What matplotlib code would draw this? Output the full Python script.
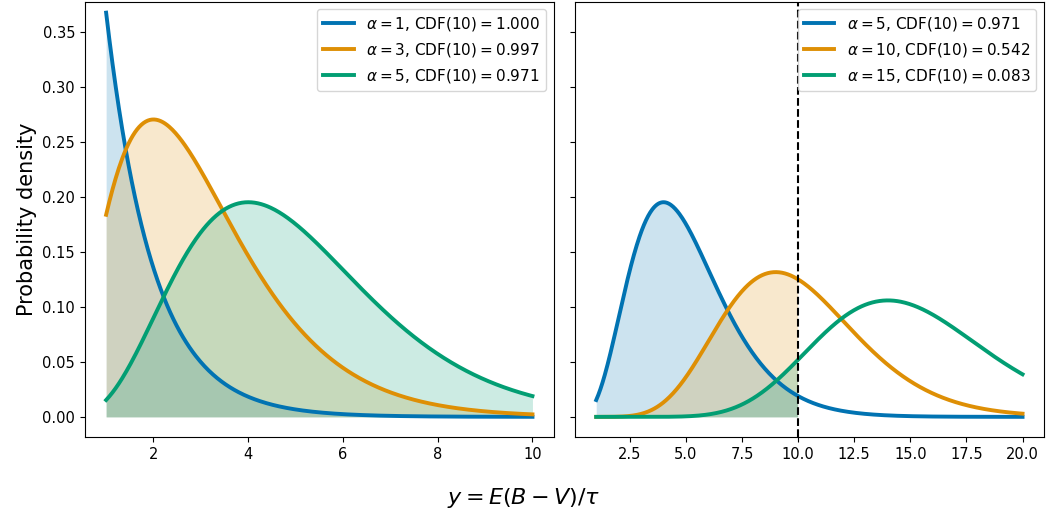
import math
import numpy as np
import matplotlib
matplotlib.use("Agg")
import matplotlib.pyplot as plt

# shape parameters of the gamma distributions and the CDF(10) shown in legends
alphas_left = [1, 3, 5]
cdf_left = ["1.000", "0.997", "0.971"]
alphas_right = [5, 10, 15]
cdf_right = ["0.971", "0.542", "0.083"]
colors = ["#0173b2", "#de8f05", "#029e73"]

x_left = (1, 10)
x_right = (1, 20)
cut = 10


def gamma_pdf(x, a):
    return np.exp((a - 1) * np.log(x) - x - math.lgamma(a))


fig, (ax1, ax2) = plt.subplots(1, 2, figsize=(10.47, 5.18), dpi=100, sharey=True)
fig.subplots_adjust(left=0.081, right=0.997, top=0.997, bottom=0.156, wspace=0.045)

# left panel
x = np.linspace(*x_left, 400)
for a, c, col in zip(alphas_left, cdf_left, colors):
    y = gamma_pdf(x, a)
    ax1.fill_between(x, y, color=col, alpha=0.2, lw=0)
    ax1.plot(x, y, color=col, lw=2.8, label=rf"$\alpha = {a}$, CDF$(10) = {c}$")
ax1.legend(loc="upper right", fontsize=11)
ax1.set_ylabel("Probability density", fontsize=15)

# right panel
x = np.linspace(*x_right, 600)
for a, c, col in zip(alphas_right, cdf_right, colors):
    y = gamma_pdf(x, a)
    m = x <= cut
    ax2.fill_between(x[m], y[m], color=col, alpha=0.2, lw=0)
    ax2.plot(x, y, color=col, lw=2.8, label=rf"$\alpha = {a}$, CDF$(10) = {c}$")
ax2.axvline(cut, color="black", ls="--", lw=1.5)
ax2.legend(loc="upper right", fontsize=11)

ax1.set_ylim(-0.0185, 0.378)
for ax in (ax1, ax2):
    ax.tick_params(labelsize=10.5)

fig.supxlabel(r"$y = E(B - V)/\tau$", fontsize=16, y=0.015)

fig.savefig("out.png", dpi=100)
